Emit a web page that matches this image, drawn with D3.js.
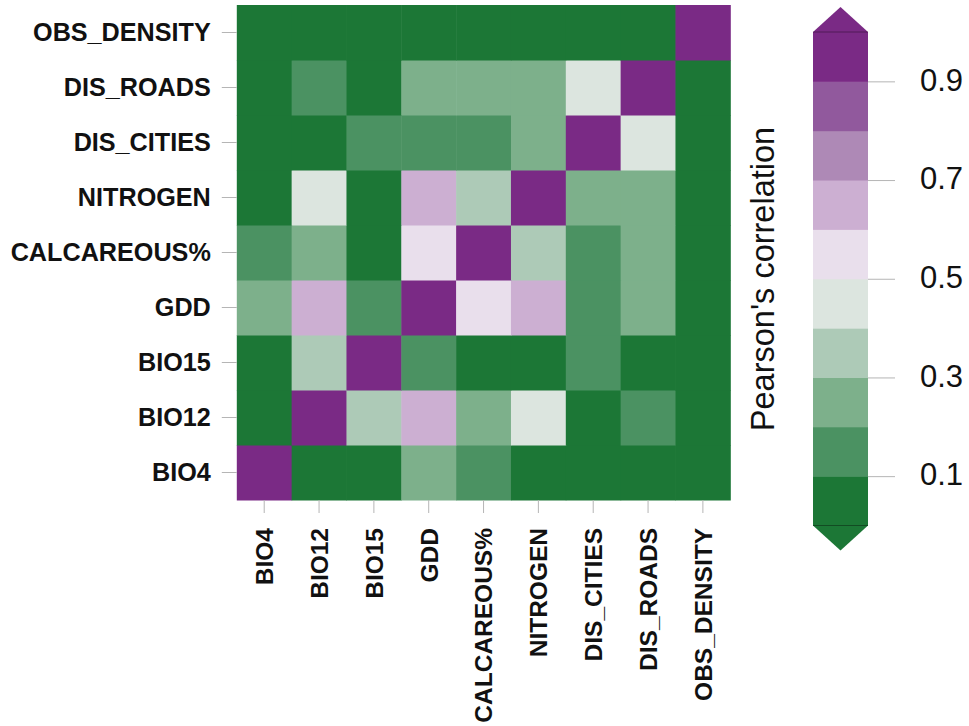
<!DOCTYPE html>
<html>
<head>
<meta charset="utf-8">
<script src="https://cdn.jsdelivr.net/npm/d3@7/dist/d3.min.js"></script>
<style>
  html, body { margin: 0; padding: 0; background: #ffffff; }
  svg { display: block; }
</style>
</head>
<body>
<svg id="chart" width="969" height="726"></svg>
<script>
// Predictor variables, in axis order (first = left / bottom)
const variables = ["BIO4", "BIO12", "BIO15", "GDD", "CALCAREOUS%", "NITROGEN", "DIS_CITIES", "DIS_ROADS", "OBS_DENSITY"];

// Absolute Pearson correlation between variables (symmetric, rows follow `variables`)
const corrBIO4       = [1.00, 0.06, 0.04, 0.24, 0.17, 0.07, 0.05, 0.03, 0.02];
const corrBIO12      = [0.06, 1.00, 0.36, 0.66, 0.27, 0.44, 0.08, 0.14, 0.03];
const corrBIO15      = [0.04, 0.36, 1.00, 0.15, 0.05, 0.09, 0.13, 0.06, 0.01];
const corrGDD        = [0.24, 0.66, 0.15, 1.00, 0.54, 0.64, 0.16, 0.26, 0.04];
const corrCALCAREOUS = [0.17, 0.27, 0.05, 0.54, 1.00, 0.33, 0.12, 0.23, 0.02];
const corrNITROGEN   = [0.07, 0.44, 0.09, 0.64, 0.33, 1.00, 0.22, 0.25, 0.03];
const corrDIS_CITIES = [0.05, 0.08, 0.13, 0.16, 0.12, 0.22, 1.00, 0.46, 0.05];
const corrDIS_ROADS  = [0.03, 0.14, 0.06, 0.26, 0.23, 0.25, 0.46, 1.00, 0.04];
const corrOBS        = [0.02, 0.03, 0.01, 0.04, 0.02, 0.03, 0.05, 0.04, 1.00];
const corrMatrix = [corrBIO4, corrBIO12, corrBIO15, corrGDD, corrCALCAREOUS,
                    corrNITROGEN, corrDIS_CITIES, corrDIS_ROADS, corrOBS];

// Colour classes (0.1 wide) and colour-bar ticks
const classBreaks = [0.1, 0.2, 0.3, 0.4, 0.5, 0.6, 0.7, 0.8, 0.9];
const classColors = ["#1c7736", "#4b9262", "#7db08b", "#adcab7", "#dce5df",
                     "#e9dfec", "#ccafd2", "#ae89b6", "#91599d", "#7a2a85"];
const legendTicks = [0.1, 0.3, 0.5, 0.7, 0.9];
const legendTitle = "Pearson's correlation";

const svg = d3.select("#chart");
const color = d3.scaleThreshold().domain(classBreaks).range(classColors);
const FONT = "'Liberation Sans', Arial, sans-serif";

// ---- heat map ----
const x = d3.scaleBand().domain(variables).range([236.8, 730.3]).padding(0);
const y = d3.scaleBand().domain(variables.slice().reverse()).range([5, 500]).padding(0);

const cells = [];
variables.forEach((rv, i) => {
  variables.forEach((cv, j) => {
    cells.push({ row: rv, col: cv, value: corrMatrix[i][j] });
  });
});

svg.append("g").selectAll("rect")
  .data(cells)
  .join("rect")
  .attr("x", d => x(d.col))
  .attr("y", d => y(d.row))
  .attr("width", x.bandwidth() + 0.5)
  .attr("height", y.bandwidth() + 0.5)
  .attr("fill", d => color(d.value));

// y axis (left)
const yAxis = svg.append("g")
  .attr("transform", `translate(${x.range()[0]},0)`)
  .call(d3.axisLeft(y).tickSize(15).tickPadding(11));
yAxis.select(".domain").remove();
yAxis.selectAll(".tick line").attr("stroke", "#b5b5b5");
yAxis.selectAll(".tick text")
  .attr("font-family", FONT)
  .attr("font-weight", "bold")
  .attr("font-size", 25.2)
  .attr("fill", "#111");

// x axis (bottom) with vertical labels
const xAxis = svg.append("g")
  .attr("transform", `translate(0,${y.range()[1]})`)
  .call(d3.axisBottom(x).tickSize(13).tickPadding(0));
xAxis.select(".domain").remove();
xAxis.selectAll(".tick line").attr("stroke", "#b5b5b5");
xAxis.selectAll(".tick text")
  .attr("font-family", FONT)
  .attr("font-weight", "bold")
  .attr("font-size", 24.5)
  .attr("fill", "#111")
  .attr("text-anchor", "end")
  .attr("dy", null)
  .attr("y", 0)
  .attr("transform", "translate(8.8,28) rotate(-90)");

// ---- colour bar ----
const barX0 = 813, barX1 = 868, barMid = (barX0 + barX1) / 2;
const cb = d3.scaleLinear().domain([0, 1]).range([525.5, 32]);
const bands = classColors.map((c, i) => ({ lo: i / 10, hi: (i + 1) / 10, c }));

const legend = svg.append("g");
legend.selectAll("rect")
  .data(bands)
  .join("rect")
  .attr("x", barX0)
  .attr("y", d => cb(d.hi))
  .attr("width", barX1 - barX0)
  .attr("height", d => cb(d.lo) - cb(d.hi) + 0.5)
  .attr("fill", d => d.c);

// end triangles for out-of-range values
legend.append("path")
  .attr("d", `M${barX0},${cb(1)}L${barMid},${cb(1) - 25}L${barX1},${cb(1)}Z`)
  .attr("fill", classColors[classColors.length - 1]);
legend.append("path")
  .attr("d", `M${barX0},${cb(0)}L${barMid},${cb(0) + 25}L${barX1},${cb(0)}Z`)
  .attr("fill", classColors[0]);
[cb(1), cb(0)].forEach(v => {
  legend.append("line")
    .attr("x1", barX0).attr("x2", barX1)
    .attr("y1", v).attr("y2", v)
    .attr("stroke", "rgba(0,0,0,0.35)").attr("stroke-width", 1);
});

const lAxis = legend.append("g")
  .attr("transform", `translate(${barX1},0)`)
  .call(d3.axisRight(cb).tickValues(legendTicks).tickFormat(d3.format(".1f")).tickSize(27).tickPadding(25));
lAxis.select(".domain").remove();
lAxis.selectAll(".tick line").attr("stroke", "#b5b5b5");
lAxis.selectAll(".tick text")
  .attr("font-family", FONT)
  .attr("font-size", 31)
  .attr("fill", "#111")
  .attr("dy", "0.28em");

svg.append("text")
  .attr("transform", "translate(774,279) rotate(-90)")
  .attr("text-anchor", "middle")
  .attr("font-family", FONT)
  .attr("font-size", 32.5)
  .attr("fill", "#111")
  .text(legendTitle);
</script>
</body>
</html>
